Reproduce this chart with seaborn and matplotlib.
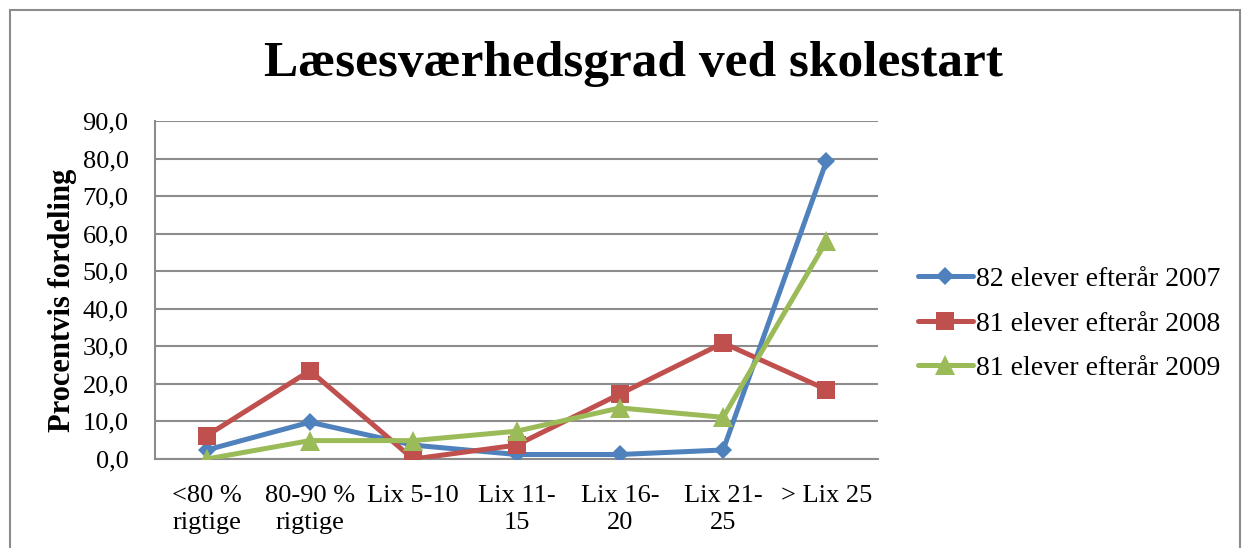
import matplotlib
matplotlib.use("Agg")
import matplotlib.pyplot as plt
import seaborn as sns
import pandas as pd
from matplotlib.ticker import FuncFormatter
from matplotlib.patches import Rectangle

categories = ["<80 %\nrigtige", "80-90 %\nrigtige", "Lix 5-10", "Lix 11-\n15",
              "Lix 16-\n20", "Lix 21-\n25", "> Lix 25"]
series_names = ["82 elever efterår 2007", "81 elever efterår 2008", "81 elever efterår 2009"]
vals_2007 = [2.4, 9.8, 3.7, 1.2, 1.2, 2.4, 79.3]
vals_2008 = [6.2, 23.5, 0.0, 3.7, 17.3, 30.9, 18.5]
vals_2009 = [0.0, 4.9, 4.9, 7.4, 13.6, 11.1, 58.0]

# long-form table
rows = []
for name, vals in zip(series_names, [vals_2007, vals_2008, vals_2009]):
    for i, v in enumerate(vals):
        rows.append({"pos": i, "value": v, "serie": name})
df = pd.DataFrame(rows)

sns.set_style("white")
plt.rcParams["font.family"] = ["Liberation Serif", "DejaVu Serif"]
plt.rcParams["text.color"] = "black"
plt.rcParams["axes.labelcolor"] = "black"
plt.rcParams["xtick.color"] = "black"
plt.rcParams["ytick.color"] = "black"

colors = {series_names[0]: "#4F81BD", series_names[1]: "#C0504D", series_names[2]: "#9BBB59"}
markers = {series_names[0]: "D", series_names[1]: "s", series_names[2]: "^"}
msizes = {series_names[0]: 9.5, series_names[1]: 13.5, series_names[2]: 14}

fig = plt.figure(figsize=(12.46, 5.48), dpi=100)
ax = fig.add_axes([0.1244, 0.1624, 0.5803, 0.6168])

for name in series_names:
    sns.lineplot(data=df[df["serie"] == name], x="pos", y="value", ax=ax,
                 color=colors[name], marker=markers[name], markersize=msizes[name],
                 markeredgewidth=0, linewidth=3.6, label=name, zorder=3)

ax.set_xlim(-0.5, len(categories) - 0.5)
ax.set_ylim(0, 90)
ax.set_yticks(range(0, 91, 10))
ax.yaxis.set_major_formatter(FuncFormatter(lambda v, p: f"{v:.1f}".replace(".", ",")))
ax.set_xticks(range(len(categories)))
ax.set_xticklabels(categories, fontsize=19, linespacing=1.3)
ax.tick_params(axis="y", labelsize=19, length=0, pad=19)
ax.tick_params(axis="x", length=0, pad=19)
ax.grid(axis="y", color="#8c8c8c", linewidth=1.5)
ax.set_axisbelow(True)
for s in ["top", "right"]:
    ax.spines[s].set_visible(False)
for s in ["left", "bottom"]:
    ax.spines[s].set_color("#8c8c8c")
    ax.spines[s].set_linewidth(1.5)
ax.set_xlabel("")
ax.set_ylabel("Procentvis fordeling", fontsize=22, fontweight="bold")
ax.yaxis.set_label_coords(-0.108, 0.47)

fig.suptitle("Læsesværhedsgrad ved skolestart", fontsize=37, fontweight="bold",
             x=0.508, y=0.925)

leg = ax.legend(loc="center left", bbox_to_anchor=(1.02, 0.40), frameon=False,
                fontsize=20, handlelength=2.0, handletextpad=0.12, labelspacing=0.68)

# outer chart border
fig.patches.append(Rectangle((10 / 1246, -0.05), 1230 / 1246, 1.05 - 10 / 548,
                             transform=fig.transFigure, fill=False,
                             edgecolor="#8c8c8c", linewidth=1.5))

fig.savefig("out.png", dpi=100)
